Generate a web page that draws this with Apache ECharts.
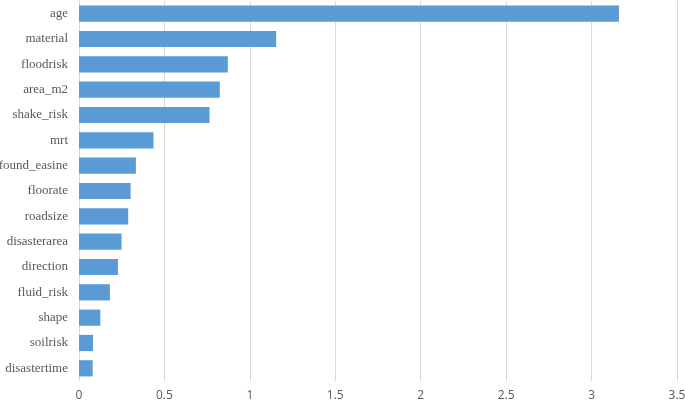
<!DOCTYPE html>
<html>
<head>
<meta charset="utf-8">
<script src="https://cdn.jsdelivr.net/npm/echarts@6/dist/echarts.min.js"></script>
<style>
  html, body { margin: 0; padding: 0; background: #fff; }
  #chart { width: 685px; height: 400px; }
</style>
</head>
<body>
<div id="chart"></div>
<script>
// categories, listed bottom to top (category axis starts at the bottom)
const features = ['disastertime', 'soilrisk', 'shape', 'fluid_risk', 'direction',
    'disasterarea', 'roadsize', 'floorate', 'found_easine', 'mrt',
    'shake_risk', 'area_m2', 'floodrisk', 'material', 'age'];
const importance = [0.080, 0.082, 0.125, 0.181, 0.228,
    0.249, 0.288, 0.302, 0.333, 0.436,
    0.764, 0.824, 0.871, 1.154, 3.16];
const xTicks = [0, 0.5, 1, 1.5, 2, 2.5, 3, 3.5];

const chart = echarts.init(document.getElementById('chart'));

const option = {
    animation: false,
    grid: {
        left: 79,
        right: 8,
        top: 1,
        bottom: 19,
        containLabel: false,
        outerBoundsMode: 'none'
    },
    xAxis: {
        type: 'value',
        min: xTicks[0],
        max: xTicks[xTicks.length - 1],
        interval: 0.5,
        axisLine: { show: false },
        axisTick: { show: false },
        splitLine: { lineStyle: { color: '#d9d9d9', width: 1 } },
        axisLabel: {
            color: '#595959',
            fontFamily: 'Open Sans',
            fontSize: 12,
            margin: 9
        }
    },
    yAxis: {
        type: 'category',
        data: features,
        axisLine: { show: true, lineStyle: { color: '#d9d9d9' } },
        axisTick: { show: false },
        axisLabel: {
            color: '#595959',
            fontFamily: 'Liberation Serif',
            fontSize: 13,
            margin: 11
        }
    },
    series: [
        {
            type: 'bar',
            data: importance,
            barCategoryGap: '36%',
            itemStyle: { color: '#5b9bd5' }
        }
    ]
};

chart.setOption(option);
</script>
</body>
</html>
